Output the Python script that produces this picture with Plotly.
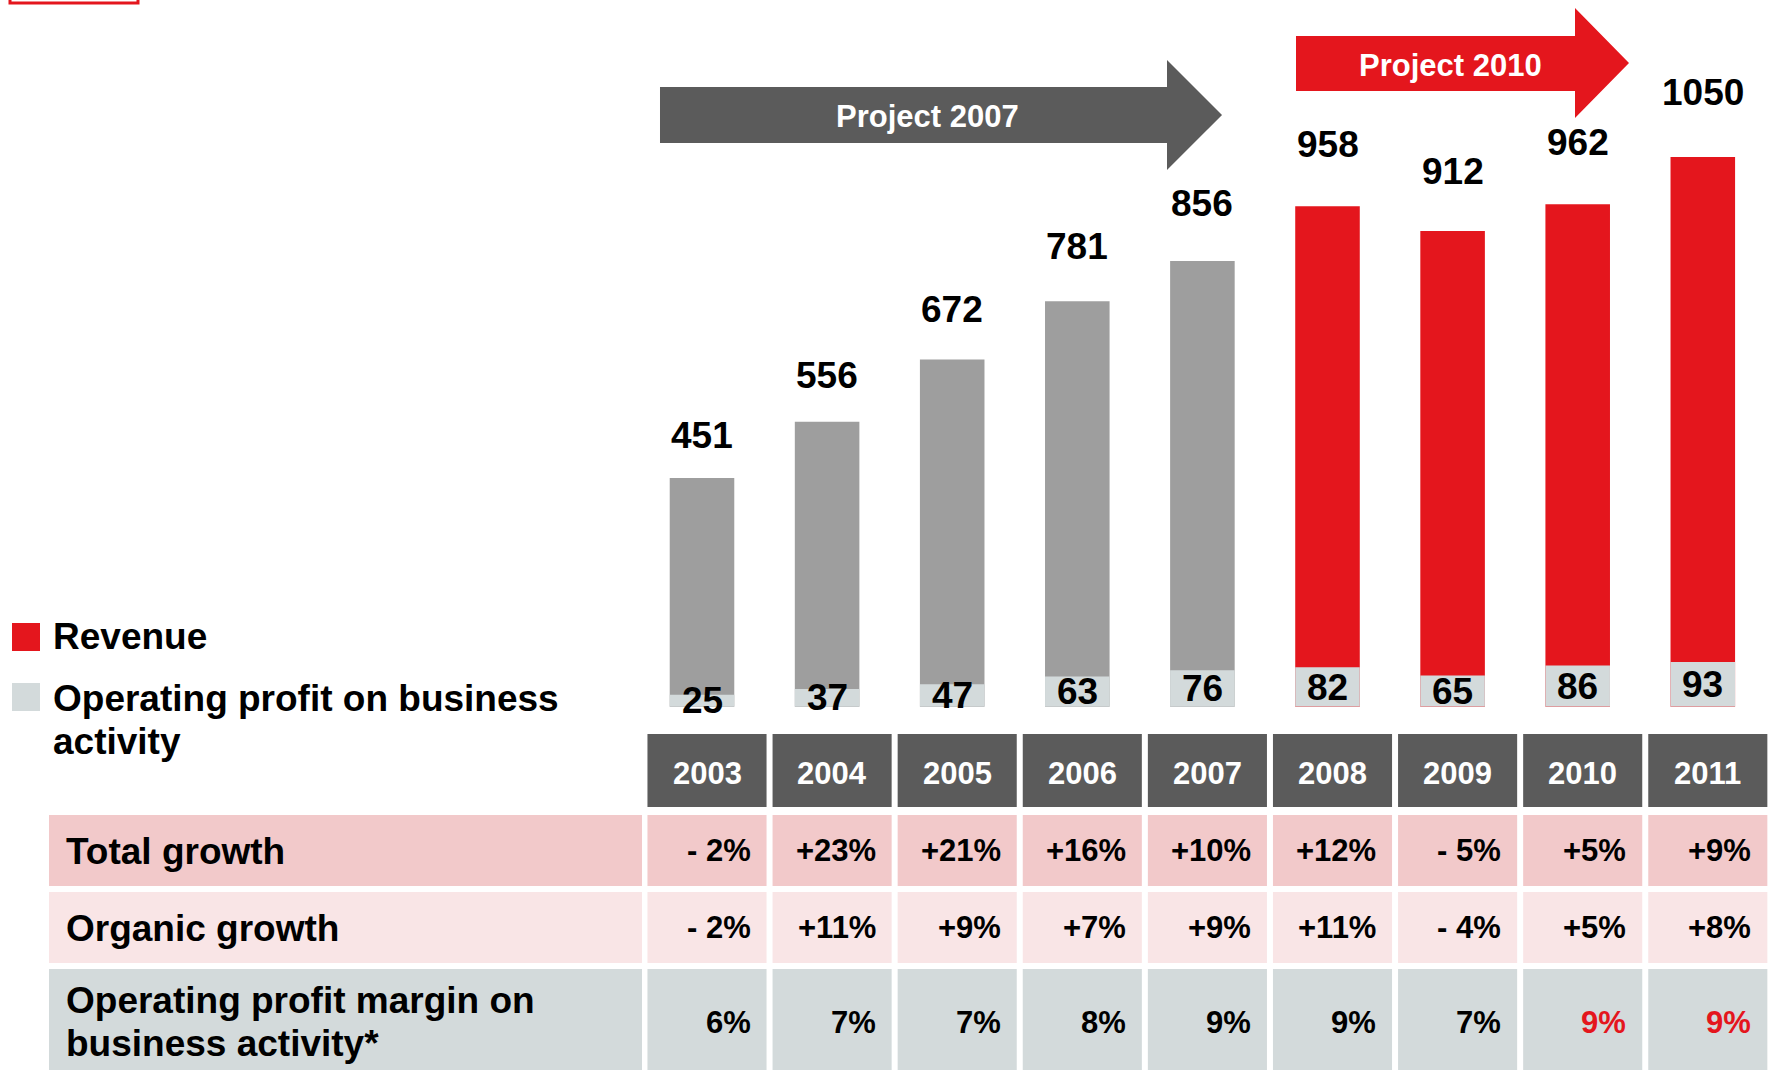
import plotly.graph_objects as go

# ---- data -----------------------------------------------------------------
years = ["2003", "2004", "2005", "2006", "2007", "2008", "2009", "2010", "2011"]
revenue = [451, 556, 672, 781, 856, 958, 912, 962, 1050]
op_profit = [25, 37, 47, 63, 76, 82, 65, 86, 93]
total_growth = ["- 2%", "+23%", "+21%", "+16%", "+10%", "+12%", "- 5%", "+5%", "+9%"]
organic_growth = ["- 2%", "+11%", "+9%", "+7%", "+9%", "+11%", "- 4%", "+5%", "+8%"]
op_margin = ["6%", "7%", "7%", "8%", "9%", "9%", "7%", "9%", "9%"]
project_2010_years = ["2008", "2009", "2010", "2011"]
margin_red_years = ["2010", "2011"]

# ---- style ----------------------------------------------------------------
W, H = 1772, 1070
FONT = "Liberation Sans, Arial, Helvetica, sans-serif"
RED = "#e4161d"
GREY_BAR = "#9e9e9e"
PROFIT = "#d3dadb"
DARK = "#5b5b5b"
ROW_COLORS = ["#f2c9ca", "#f9e5e6", "#d3dadb"]
BAR_W = 0.516
CELL_OFF = 0.04   # table columns sit slightly right of bar centres
CELL_HW = 0.476
BASE_PX = 706.7   # bar baseline, pixels from top


def px(x):
    return x / W


def py(y):
    return 1 - y / H


def arrow_path(x0, top, bot, xh, htop, hbot, tip_x, tip_y):
    pts = [(x0, top), (xh, top), (xh, htop), (tip_x, tip_y), (xh, hbot), (xh, bot), (x0, bot)]
    return "M " + " L ".join(f"{px(a):.5f},{py(b):.5f}" for a, b in pts) + " Z"


xs = list(range(len(years)))
bar_colors = [RED if y in project_2010_years else GREY_BAR for y in years]

fig = go.Figure()
fig.add_trace(go.Bar(x=xs, y=revenue, width=BAR_W, marker=dict(color=bar_colors, line_width=0),
                     name="Revenue", hoverinfo="skip", yaxis="y"))
fig.add_trace(go.Bar(x=xs, y=op_profit, width=BAR_W, marker=dict(color=PROFIT, line_width=0),
                     name="Operating profit", hoverinfo="skip", yaxis="y2"))

annotations = []
shapes = []

# bar labels
for i, (r, p) in enumerate(zip(revenue, op_profit)):
    annotations.append(dict(x=i, y=r, xref="x", yref="y", text=f"<b>{r}</b>", showarrow=False,
                            yanchor="middle", yshift=25 + 0.038 * r,
                            font=dict(size=37, color="black", family=FONT)))
    annotations.append(dict(x=i, y=p / 2, xref="x", yref="y2", text=f"<b>{p}</b>", showarrow=False,
                            yanchor="middle", font=dict(size=37, color="black", family=FONT)))

# project arrows
shapes.append(dict(type="path", xref="paper", yref="paper", line_width=0, fillcolor=DARK,
                   path=arrow_path(660, 87, 143, 1167, 60, 170, 1222, 115)))
shapes.append(dict(type="path", xref="paper", yref="paper", line_width=0, fillcolor=RED,
                   path=arrow_path(1296, 36, 91, 1575, 8, 118, 1629, 63)))
annotations.append(dict(x=px(927), y=py(117), xref="paper", yref="paper", text="<b>Project 2007</b>",
                        showarrow=False, xanchor="center", yanchor="middle",
                        font=dict(size=31, color="white", family=FONT)))
annotations.append(dict(x=px(1450), y=py(66), xref="paper", yref="paper", text="<b>Project 2010</b>",
                        showarrow=False, xanchor="center", yanchor="middle",
                        font=dict(size=31, color="white", family=FONT)))

# red frame cut at the top-left corner
shapes.append(dict(type="rect", xref="paper", yref="paper", x0=px(10), x1=px(138), y0=py(-30), y1=py(3),
                   line=dict(color=RED, width=3), fillcolor="rgba(0,0,0,0)"))

# legend
shapes.append(dict(type="rect", xref="paper", yref="paper", x0=px(12), x1=px(40), y0=py(651), y1=py(623),
                   line_width=0, fillcolor=RED))
shapes.append(dict(type="rect", xref="paper", yref="paper", x0=px(12), x1=px(40), y0=py(711), y1=py(683),
                   line_width=0, fillcolor=PROFIT))
for text, yc in [("Revenue", 636), ("Operating profit on business", 698), ("activity", 741)]:
    annotations.append(dict(x=px(51), y=py(yc), xref="paper", yref="paper", text=f"<b>{text}</b>",
                            showarrow=False, xanchor="left", yanchor="middle",
                            font=dict(size=37, color="black", family=FONT)))

# table: header row with years
for i, yr in enumerate(years):
    shapes.append(dict(type="rect", xref="x", yref="paper", x0=i + CELL_OFF - CELL_HW,
                       x1=i + CELL_OFF + CELL_HW, y0=py(807), y1=py(734), line_width=0, fillcolor=DARK))
    annotations.append(dict(x=i + CELL_OFF, y=py(773), xref="x", yref="paper", text=f"<b>{yr}</b>",
                            showarrow=False, xanchor="center", yanchor="middle",
                            font=dict(size=31, color="white", family=FONT)))

rows = [
    (["Total growth"], total_growth, 815, 886, [851]),
    (["Organic growth"], organic_growth, 892, 963, [928]),
    (["Operating profit margin on", "business activity*"], op_margin, 969, 1090, [1000, 1043]),
]
for k, (label_lines, values, top, bot, label_ys) in enumerate(rows):
    color = ROW_COLORS[k]
    shapes.append(dict(type="rect", xref="paper", yref="paper", x0=px(49), x1=px(642),
                       y0=py(bot), y1=py(top), line_width=0, fillcolor=color))
    for line, yc in zip(label_lines, label_ys):
        annotations.append(dict(x=px(64), y=py(yc), xref="paper", yref="paper", text=f"<b>{line}</b>",
                                showarrow=False, xanchor="left", yanchor="middle",
                                font=dict(size=37, color="black", family=FONT)))
    val_y = (top + bot) / 2 if k < 2 else 1022
    for i, v in enumerate(values):
        shapes.append(dict(type="rect", xref="x", yref="paper", x0=i + CELL_OFF - CELL_HW,
                           x1=i + CELL_OFF + CELL_HW, y0=py(bot), y1=py(top), line_width=0, fillcolor=color))
        txt_color = RED if (k == 2 and years[i] in margin_red_years) else "black"
        annotations.append(dict(x=i + CELL_OFF + CELL_HW, y=py(val_y), xref="x", yref="paper",
                                text=f"<b>{v}</b>", showarrow=False, xanchor="right", yanchor="middle",
                                xshift=-14, font=dict(size=31, color=txt_color, family=FONT)))

# axis ranges: category 0 sits at x=702 px; bars rise from y=706.7 px
pitch = 125.1
x_lo = -702 / pitch
x_hi = x_lo + W / pitch
rev_px, rev_floor = 0.5359, 24.3     # revenue scale does not start at zero
prof_px = 0.48
y_dom = [py(BASE_PX), 1]

fig.update_layout(
    width=W, height=H,
    margin=dict(l=0, r=0, t=0, b=0),
    paper_bgcolor="white", plot_bgcolor="white",
    barmode="overlay", showlegend=False,
    xaxis=dict(range=[x_lo, x_hi], visible=False, fixedrange=True),
    yaxis=dict(domain=y_dom, range=[rev_floor, rev_floor + BASE_PX / rev_px],
               visible=False, fixedrange=True),
    yaxis2=dict(domain=y_dom, range=[0, BASE_PX / prof_px], overlaying="y",
                visible=False, fixedrange=True),
    shapes=shapes, annotations=annotations,
    font=dict(family=FONT),
)

fig.write_html("out.html", config={"displayModeBar": False},
               post_script="document.body.style.margin='0';")
